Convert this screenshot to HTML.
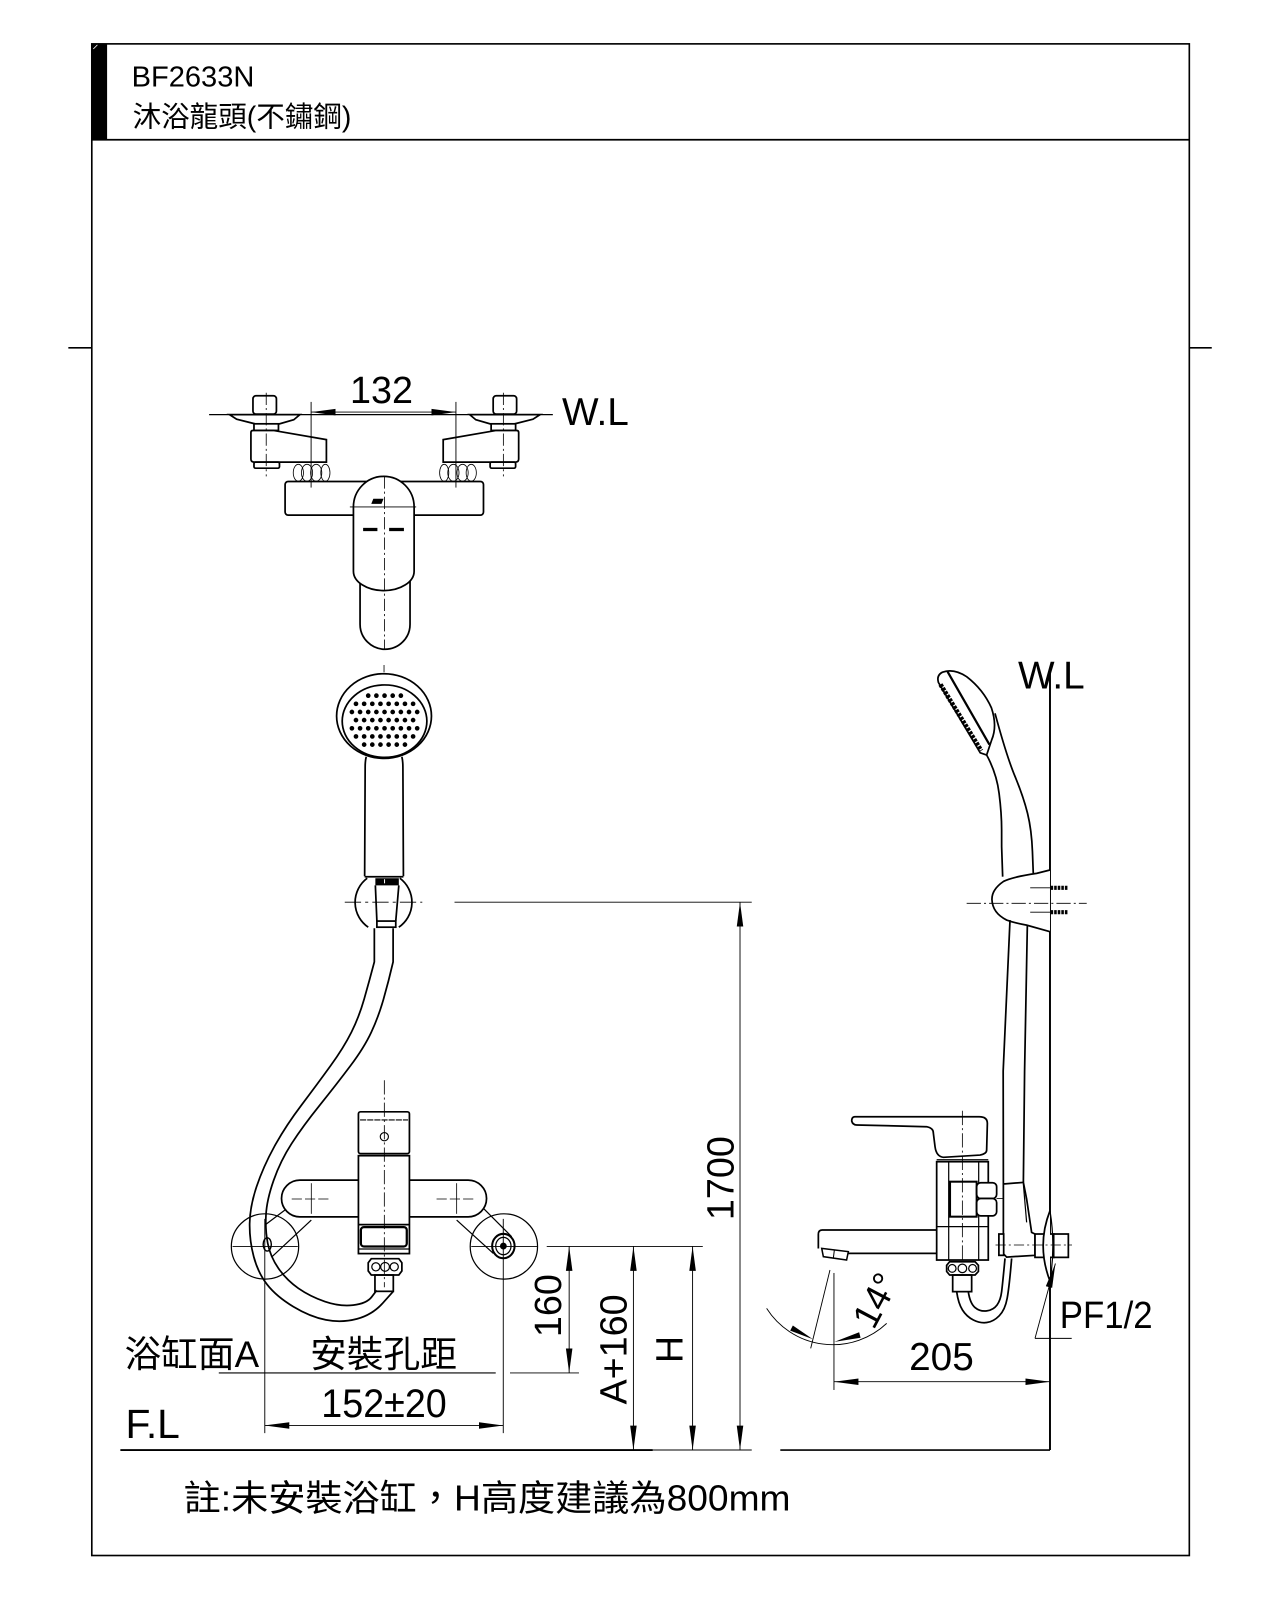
<!DOCTYPE html>
<html><head><meta charset="utf-8"><style>
html,body{margin:0;padding:0;background:#fff;}
svg{display:block;}
text{font-family:"Liberation Sans","Noto Sans CJK TC",sans-serif;fill:#000;stroke:none;}
</style></head><body>
<svg width="1280" height="1600" viewBox="0 0 1254.9 1568.6" xmlns="http://www.w3.org/2000/svg">
<defs>
<marker id="ar" markerUnits="userSpaceOnUse" markerWidth="24" markerHeight="8" viewBox="0 0 24 8" refX="24" refY="4" orient="auto-start-reverse"><path d="M0,0.8 L24,4 L0,7.2 z" fill="#000"/></marker>
</defs>

<!-- frame -->
<g fill="none" stroke="#000" stroke-width="1.6">
<rect x="90" y="43" width="1076" height="1482"/>
<line x1="90" y1="137" x2="1166" y2="137"/>
<line x1="67" y1="341" x2="90" y2="341"/>
<line x1="1166" y1="341" x2="1188" y2="341"/>
</g>
<rect x="90" y="43" width="15" height="94" fill="#000"/>
<line x1="91.5" y1="48" x2="95.5" y2="44" stroke="#fff" stroke-width="0.8"/>
<text x="129" y="85" font-size="28.5">BF2633N</text>
<text x="130" y="124" font-size="28">沐浴龍頭(不鏽鋼)</text>

<!-- ===== TOP VIEW ===== -->
<g fill="none" stroke="#000" stroke-width="1.7">
<rect x="279.5" y="472" width="194.5" height="33" rx="3" fill="#fff"/>
<g id="tv">
 <rect x="248" y="388" width="23" height="18" rx="3" fill="#fff"/>
 <path d="M225,406.5 L294,406.5 L288,411.5 L274,415.5 L250,415.5 L232,411 Z" fill="#fff"/>
 <rect x="249" y="415.5" width="24" height="6.5" fill="#fff"/>
 <path d="M248,422 H268 L320,431 V453 H249 Q246,453 246,450 V424 Q246,422 248,422 Z" fill="#fff"/>
 <rect x="249" y="453" width="25" height="6" rx="1.5" fill="#fff"/>
 <g stroke-width="0.8">
 <ellipse cx="292.5" cy="463.5" rx="5" ry="8.3"/>
 <ellipse cx="301" cy="463.5" rx="5.5" ry="8.3"/>
 <ellipse cx="310" cy="463.5" rx="5.5" ry="8.3"/>
 <ellipse cx="319" cy="463.5" rx="4.5" ry="8.3"/>
 </g>
 <line x1="261" y1="385" x2="261" y2="467" stroke-width="0.8" stroke-dasharray="12 3 2 3"/>
</g>
<use href="#tv" transform="translate(754.5,0) scale(-1,1)"/>
<!-- handle & lever -->
<path d="M353,560 V612 A24.5,24.5 0 0 0 402,612 V560" fill="#fff"/>
<path d="M346.5,497 A29.75,30 0 0 1 406,497 V560 A29.75,19 0 0 1 346.5,560 Z" fill="#fff"/>
<line x1="377" y1="467" x2="377" y2="636" stroke-width="0.8" stroke-dasharray="12 3 2 3"/>
<line x1="343" y1="497" x2="408" y2="497" stroke-width="0.8"/>
<!-- 132 dim -->
<line x1="305" y1="394" x2="305" y2="478" stroke-width="0.9"/>
<line x1="447" y1="394" x2="447" y2="478" stroke-width="0.9"/>
<line x1="305" y1="404" x2="447" y2="404" stroke-width="0.9" marker-start="url(#ar)" marker-end="url(#ar)"/>
<line x1="205" y1="406.5" x2="542" y2="406.5" stroke-width="1.3"/>
</g>
<path d="M366,489 L376,489 L374,494 L364,494 Z" fill="#000"/>
<rect x="356" y="517.5" width="14" height="3.2" fill="#000"/>
<rect x="381.5" y="517.5" width="14.5" height="3.2" fill="#000"/>
<text x="374" y="395" font-size="37" text-anchor="middle">132</text>
<text x="551" y="416.5" font-size="38">W.L</text>

<!-- ===== HAND SHOWER FRONT ===== -->
<g fill="none" stroke="#000" stroke-width="1.7">
<line x1="376.5" y1="652" x2="376.5" y2="659" stroke-width="0.8"/>
<ellipse cx="376.5" cy="702" rx="46.5" ry="41.5"/>
<ellipse cx="377" cy="707" rx="41.5" ry="35.5"/>
<g stroke-width="4.6" stroke-linecap="round" stroke-dasharray="0 8">
<line x1="361" y1="682" x2="394" y2="682"/>
<line x1="349" y1="690" x2="406" y2="690"/>
<line x1="345" y1="698" x2="410" y2="698"/>
<line x1="349" y1="706" x2="406" y2="706"/>
<line x1="345" y1="714" x2="410" y2="714"/>
<line x1="349" y1="722" x2="406" y2="722"/>
<line x1="357" y1="730" x2="398" y2="730"/>
</g>
<path d="M359,742 Q358,746 358,752 L357.5,859 M394,742 Q395,746 395,752 L395.5,859"/>
<line x1="357.5" y1="859.5" x2="395.5" y2="859.5"/>
<path d="M360,861 A29.5,29.5 0 0 0 361,909 M392,861 A29.5,29.5 0 0 1 391,909"/>
<path d="M368,868 L369.5,903 M391,868 L388,903"/>
<rect x="369.5" y="903" width="18.5" height="6"/>
<!-- hose -->
<path d="M367,910 L367,943 Q362,962 357,979.5 Q352,997 344.5,1012 Q337,1027 324,1045 Q311,1063 295.5,1083.5 Q280,1104 269,1124 Q258,1144 251.5,1163.5 Q245,1183 244.75,1199.5 Q244.5,1216 248.75,1232 Q253,1248 262,1259.5 Q271,1271 287.5,1281 Q304,1291 319.5,1294 Q335,1297 350,1293 Q365,1289 375.3,1277.5 L385.6,1266"/>
<path d="M385.4,910 L385.4,943 Q381,962 376,979.5 Q371,997 364,1012 Q357,1027 343.5,1045 Q330,1063 313.5,1083.5 Q297,1104 286,1121 Q275,1138 268.25,1157.25 Q261.5,1176.5 260.75,1191.25 Q260,1206 262.5,1219 Q265,1232 273,1243.5 Q281,1255 292.5,1263 Q304,1271 318.5,1276 Q333,1281 346.25,1279.5 Q359.5,1278 364.4,1271.5 L369.3,1265"/>
</g>
<rect x="368" y="861" width="23" height="7" fill="#000"/>
<line x1="377" y1="862" x2="377" y2="866" stroke="#fff" stroke-width="1"/>

<!-- ===== BOTTOM FAUCET FRONT ===== -->
<g fill="none" stroke="#000" stroke-width="1.7">
<ellipse cx="259.8" cy="1222" rx="33" ry="32" stroke-width="1.2"/>
<ellipse cx="494" cy="1222" rx="33" ry="32" stroke-width="1.2"/>
<path d="M279.4,1186.3 L259.8,1201 M305.2,1196.1 L266.3,1232.4" stroke-width="1.2"/>
<path d="M447.7,1196.1 L483.7,1228.8 M473.9,1184.6 L501.6,1212.4" stroke-width="1.2"/>
<ellipse cx="262" cy="1220" rx="4" ry="6.5" stroke-width="1.4"/>
<ellipse cx="493.5" cy="1221.6" rx="11" ry="12" stroke-width="2"/>
<ellipse cx="493.5" cy="1221.6" rx="7.5" ry="8.5" stroke-width="1.2"/>
<circle cx="493.5" cy="1221.6" r="2.5" fill="#000"/>
<path d="M351.4,1157 H294 A18,18 0 0 0 294,1193 H351.4" fill="#fff"/>
<path d="M401.4,1157 H459 A18,18 0 0 1 459,1193 H401.4" fill="#fff"/>
<rect x="351.4" y="1090" width="50" height="41" rx="2" fill="#fff"/>
<line x1="353" y1="1098" x2="400" y2="1098" stroke-width="1.1" stroke-dasharray="6 1"/>
<circle cx="376.8" cy="1114.4" r="4" stroke-width="1.1"/>
<rect x="351.4" y="1133" width="50" height="96" fill="#fff"/>
<line x1="351.4" y1="1200.6" x2="401.4" y2="1200.6"/>
<rect x="353.8" y="1203" width="45" height="19" rx="3" stroke-width="2.2"/>
<line x1="351.4" y1="1224.5" x2="401.4" y2="1224.5" stroke-width="1.2"/>
<path d="M364,1234 H391 L394,1238 V1246 L391,1250 H364 L361,1246 V1238 Z" fill="#fff"/>
<circle cx="368.5" cy="1242" r="4" stroke-width="1.2"/>
<circle cx="377.5" cy="1242" r="4.3" stroke-width="1.2"/>
<circle cx="386.5" cy="1242" r="4" stroke-width="1.2"/>
<rect x="367.6" y="1250" width="18" height="16"/>
<g stroke-width="0.8">
<line x1="376.8" y1="1059" x2="376.8" y2="1262" stroke-dasharray="14 3 2 3"/>
<line x1="286" y1="1175.5" x2="325" y2="1175.5" stroke-dasharray="10 3"/>
<line x1="305.2" y1="1160" x2="305.2" y2="1190"/>
<line x1="428" y1="1175.5" x2="467" y2="1175.5" stroke-dasharray="10 3"/>
<line x1="447.7" y1="1160" x2="447.7" y2="1190"/>
<line x1="228" y1="1222" x2="292" y2="1222"/>
<line x1="462" y1="1222" x2="527" y2="1222"/>
</g>
</g>

<!-- ===== DIMENSIONS LEFT ===== -->
<g fill="none" stroke="#000" stroke-width="0.9">
<line x1="338" y1="884.5" x2="414" y2="884.5" stroke-dasharray="16 4 3 4"/>
<line x1="445.6" y1="884.5" x2="737" y2="884.5"/>
<line x1="725.5" y1="884.5" x2="725.5" y2="1421.6" marker-start="url(#ar)" marker-end="url(#ar)"/>
<line x1="536" y1="1222" x2="689" y2="1222"/>
<line x1="558" y1="1222" x2="558" y2="1346" marker-start="url(#ar)" marker-end="url(#ar)"/>
<line x1="621" y1="1222" x2="621" y2="1421.6" marker-start="url(#ar)" marker-end="url(#ar)"/>
<line x1="679" y1="1222" x2="679" y2="1421.6" marker-start="url(#ar)" marker-end="url(#ar)"/>
<line x1="214.5" y1="1346" x2="486" y2="1346" stroke-width="1.1"/>
<line x1="500" y1="1346" x2="567.6" y2="1346"/>
<line x1="259.6" y1="1195" x2="259.6" y2="1405"/>
<line x1="493.4" y1="1195" x2="493.4" y2="1405"/>
<line x1="259.6" y1="1397.5" x2="493.4" y2="1397.5" marker-start="url(#ar)" marker-end="url(#ar)"/>
<line x1="118" y1="1421.6" x2="640" y2="1421.6" stroke-width="1.8"/>
<line x1="640" y1="1421.6" x2="737" y2="1421.6" stroke-width="1"/>
<line x1="765" y1="1421.6" x2="1029.4" y2="1421.6" stroke-width="1.6"/>
</g>
<text transform="translate(719,1155) rotate(-90)" font-size="37" text-anchor="middle">1700</text>
<text transform="translate(550,1280) rotate(-90)" font-size="37" text-anchor="middle">160</text>
<text transform="translate(614,1323) rotate(-90)" font-size="37" text-anchor="middle">A+160</text>
<text transform="translate(669,1323) rotate(-90)" font-size="37" text-anchor="middle">H</text>
<text x="122" y="1340" font-size="36">浴缸面A</text>
<text x="304" y="1340" font-size="36">安裝孔距</text>
<text x="315" y="1389" font-size="39" textLength="123" lengthAdjust="spacingAndGlyphs">152±20</text>
<text x="123" y="1410" font-size="40">F.L</text>
<text x="180" y="1481" font-size="35" textLength="595" lengthAdjust="spacingAndGlyphs">註:未安裝浴缸，H高度建議為800mm</text>

<!-- ===== RIGHT SIDE VIEW ===== -->
<text x="998" y="675" font-size="38">W.L</text>
<g fill="none" stroke="#000" stroke-width="1.7">
<line x1="1029.4" y1="655" x2="1029.4" y2="1421.6" stroke-width="1.9"/>
<!-- head -->
<path d="M924,659 Q935,655 947.7,663.4 Q964,676 972,694 Q978,712 972.2,725.5 L967.3,740.2 L961,738 L920,669 Q918,662 924,659 Z" fill="#fff"/>
<line x1="929" y1="658.5" x2="970" y2="730" stroke-width="2.2"/>
<line x1="922" y1="671" x2="962" y2="736" stroke-width="4.5" stroke-dasharray="3 1.2"/>
<path d="M975.5,699.3 Q987,741.8 995.2,761.4 Q1003.3,781 1007.4,797.4 Q1011.4,813.7 1012.2,835 L1013,856"/>
<path d="M967.3,740.2 Q977.1,758.2 979.5,777.8 Q982,797.4 982,813.7 L982,830 L983,859.5"/>
<!-- holder -->
<path d="M1029.4,852.9 L1016.3,856.2 Q993.5,859.5 984,864 Q972.2,872 972.5,882 Q973,895 986.9,902 Q995,905 1006.5,907 L1029.4,913.4" fill="#fff"/>
<line x1="947.7" y1="885.6" x2="1065.4" y2="885.6" stroke-width="0.8" stroke-dasharray="14 3 2 3"/>
<line x1="1010" y1="870.4" x2="1029.4" y2="870.4" stroke-width="0.9"/>
<line x1="1010" y1="894.3" x2="1029.4" y2="894.3" stroke-width="0.9"/>
<line x1="1030" y1="870.4" x2="1047" y2="870.4" stroke-width="4" stroke-dasharray="2.5 1"/>
<line x1="1030" y1="894.3" x2="1047" y2="894.3" stroke-width="4" stroke-dasharray="2.5 1"/>
<!-- hose -->
<path d="M990.2,902 L983.5,1050 L983.7,1161"/>
<path d="M1007.2,907 L1004.5,1050 L1003.3,1159"/>
<!-- connector -->
<path d="M983.7,1160.8 L1003.3,1159.2 L1006.5,1175.5 L1011.4,1208.2 L1014.7,1209.8 L1014.7,1230.7 L986.9,1232.4 L983.7,1229.1 Z" fill="#fff"/>
<line x1="1003.3" y1="1160.8" x2="1006.5" y2="1198.4" stroke-width="1.2"/>
<rect x="979.3" y="1209.8" width="4.7" height="20.9" fill="#fff"/>
<rect x="1014.7" y="1209.8" width="18.5" height="22.9" fill="#fff"/>
<rect x="1033" y="1209.8" width="14.4" height="22.9" fill="#fff"/>
<path d="M1029.4,1187 Q1016,1221 1029.4,1256" fill="#fff"/>
<path d="M1029.4,1187 Q1035,1221 1029.4,1256" stroke-width="1.2"/>
<line x1="976" y1="1220.6" x2="1051" y2="1220.6" stroke-width="0.8" stroke-dasharray="10 3 2 3"/>
<!-- valve body -->
<rect x="918.3" y="1138.9" width="50.6" height="96.4" fill="#fff"/>
<line x1="930.1" y1="1138.9" x2="930.1" y2="1235.3" stroke-width="1.2"/>
<line x1="959.5" y1="1138.9" x2="959.5" y2="1235.3" stroke-width="1.2"/>
<line x1="918.3" y1="1202.6" x2="968.9" y2="1202.6" stroke-width="1.2"/>
<rect x="931.4" y="1158.5" width="26.1" height="34.3" fill="#fff" stroke-width="2"/>
<rect x="957.5" y="1159.5" width="19.6" height="15.5" rx="4" fill="#fff"/>
<rect x="957.5" y="1175" width="19.6" height="17" rx="4" fill="#fff"/>
<line x1="977" y1="1175" x2="984" y2="1175" stroke-width="0.8"/>
<!-- lever -->
<path d="M839.9,1102.9 L908.5,1104.6 Q915,1106 915,1110.5 L916.7,1124.2 Q918,1134 925,1134.6 L960.8,1132.4 Q967.3,1131 967.3,1127.5 L968,1101.3 Q968,1094.8 960,1094.8 L838,1094.8 Q835,1095 835,1099 Q836,1102.9 839.9,1102.9 Z" fill="#fff"/>
<line x1="918.3" y1="1137" x2="968.9" y2="1137" stroke-width="1.2"/>
<line x1="943.5" y1="1089" x2="943.5" y2="1242" stroke-width="0.8" stroke-dasharray="14 3 2 3"/>
<!-- spout -->
<path d="M918.3,1205.9 L806,1205.9 Q802.3,1206 802.3,1210 L802.3,1224"/>
<line x1="831" y1="1228.8" x2="918.3" y2="1228.8"/>
<path d="M805.6,1223.9 L831.7,1227.1 L830,1235.3 L807.2,1232 Z" fill="#fff" stroke-width="1.5"/>
<line x1="818" y1="1225.5" x2="817" y2="1233.5" stroke-width="1"/>
<!-- nut & loop -->
<path d="M931,1237 H956 L959.2,1240.5 V1246.5 L956,1250 H931 L928.1,1246.5 V1240.5 Z" fill="#fff"/>
<circle cx="933.5" cy="1243.5" r="3.8" stroke-width="1.2"/>
<circle cx="943.5" cy="1243.5" r="4.2" stroke-width="1.2"/>
<circle cx="953.5" cy="1243.5" r="3.8" stroke-width="1.2"/>
<rect x="934" y="1250" width="18.6" height="16.3"/>
<path d="M937.9,1266.3 Q939.5,1277.8 943.6,1284.3 Q947.7,1290.8 954.3,1294.1 Q960.8,1297.4 967.4,1296.6 Q973.9,1295.8 979.6,1290 Q985.3,1284.3 987.4,1272.9 Q989.5,1261.4 991.8,1233.7"/>
<path d="M949.3,1266.3 Q951,1277.8 955.9,1281.9 Q960.8,1286 967.4,1285.2 Q973.9,1284.3 977.5,1279.4 Q981,1274.5 982,1266.3 Q983,1258.2 985.3,1233.7"/>
</g>
<!-- right dims -->
<g fill="none" stroke="#000" stroke-width="0.9">
<line x1="817.6" y1="1248" x2="817.6" y2="1362.7"/>
<line x1="813.7" y1="1245.1" x2="794.8" y2="1321.9"/>
<path d="M751.6,1282.7 A77,77 0 0 0 869.3,1297.4"/>
<line x1="817.6" y1="1354.6" x2="1029.4" y2="1354.6" marker-start="url(#ar)" marker-end="url(#ar)"/>
<line x1="1014.7" y1="1312.1" x2="1050.7" y2="1312.1"/>
<line x1="1014.7" y1="1312.1" x2="1034.7" y2="1238.7" marker-end="url(#ar)"/>
</g>
<polygon points="797,1313 774.7,1304.5 777.3,1299.5" fill="#000"/>
<polygon points="818,1315.5 843.7,1311.5 842.3,1306.1" fill="#000"/>
<text transform="translate(857.8,1274.5) rotate(-62)" font-size="36" text-anchor="middle" y="13">14°</text>
<text x="923" y="1343" font-size="38" text-anchor="middle">205</text>
<text x="1039" y="1302" font-size="37" textLength="91" lengthAdjust="spacingAndGlyphs">PF1/2</text>
</svg>
</body></html>
